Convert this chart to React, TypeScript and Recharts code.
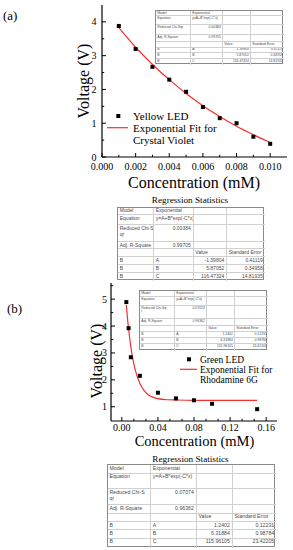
import React from 'react';
import { ComposedChart, Scatter, Line, XAxis, YAxis } from 'recharts';

// (a) Yellow LED, crystal violet
const concA = [0.001, 0.002, 0.003, 0.004, 0.005, 0.006, 0.007, 0.008, 0.009, 0.01];
const voltA = [3.88, 3.2, 2.67, 2.29, 1.93, 1.48, 1.15, 1.0, 0.6, 0.39];
const fitConcA = [0.001, 0.002, 0.003, 0.004, 0.005, 0.006, 0.007, 0.008, 0.009, 0.01];
const fitVoltA = [3.83, 3.25, 2.74, 2.29, 1.88, 1.52, 1.2, 0.91, 0.66, 0.43];

const xMajorA = [0, 0.002, 0.004, 0.006, 0.008, 0.01];
const xLabelsA = ['0.000', '0.002', '0.004', '0.006', '0.008', '0.010'];
const xMinorA = [0.001, 0.003, 0.005, 0.007, 0.009];
const yMajorA = [0, 1, 2, 3, 4];
const yLabelsA = ['0', '1', '2', '3', '4'];
const yMinorA = [0.5, 1.5, 2.5, 3.5];

// (b) Green LED, rhodamine 6G
const concB = [0.005, 0.0075, 0.01, 0.02, 0.04, 0.06, 0.08, 0.1, 0.15];
const voltB = [4.89, 3.92, 2.84, 2.15, 1.52, 1.31, 1.24, 1.11, 0.91];
const fitConcB = [0.005, 0.006, 0.0075, 0.01, 0.0125, 0.015, 0.02, 0.025, 0.03, 0.035, 0.04, 0.05, 0.06, 0.08, 0.1, 0.15];
const fitVoltB = [4.78, 4.39, 3.89, 3.22, 2.72, 2.35, 1.86, 1.59, 1.43, 1.35, 1.3, 1.26, 1.25, 1.24, 1.24, 1.24];

const xMajorB = [0, 0.04, 0.08, 0.12, 0.16];
const xLabelsB = ['0.00', '0.04', '0.08', '0.12', '0.16'];
const xMinorB = [0.0133, 0.0267, 0.0533, 0.0667, 0.0933, 0.1067, 0.1333, 0.1467];
const yMajorB = [1, 2, 3, 4, 5];
const yLabelsB = ['1', '2', '3', '4', '5'];
const yMinorB = [1.5, 2.5, 3.5, 4.5, 5.5];

// regression tables
const paramNames = ['A', 'B', 'C'];
const modelA = ['Exponential', 'y=A+B*exp(-C*x)', '0.00384', '0.99705'];
const paramValA = ['-1.39804', '5.87052', '116.47324'];
const paramErrA = ['0.41119', '0.34958', '14.81935'];
const modelB = ['Exponential', 'y=A+B*exp(-C*x)', '0.07074', '0.96362'];
const paramValB = ['1.2402', '6.31884', '115.96105'];
const paramErrB = ['0.12231', '0.98784', '23.42205'];

const SERIF = "'Liberation Serif', 'DejaVu Serif', serif";
const SANS = "'Liberation Sans', Arial, sans-serif";
const RED = '#f23030';

const isIn = (arr: number[], v: number) => arr.findIndex((m) => Math.abs(m - v) < 1e-9);

function makeTick(side: string, majors: number[], labels: string[], off: number) {
  return (p: any) => {
    const { x, y, payload } = p;
    const i = isIn(majors, payload.value);
    const len = i >= 0 ? 4 : 2.2;
    const st = { stroke: '#000', strokeWidth: 1 };
    const ts = { fontFamily: SERIF, fontSize: 10 };
    if (side === 'bottom') {
      return (
        <g>
          <line x1={x} x2={x} y1={y} y2={y - len} {...st} />
          {i >= 0 && (
            <text x={x} y={y + off} textAnchor="middle" dominantBaseline="central" style={ts} fill="#000">
              {labels[i]}
            </text>
          )}
        </g>
      );
    }
    if (side === 'top') return <line x1={x} x2={x} y1={y} y2={y + len} {...st} />;
    if (side === 'left') {
      return (
        <g>
          <line x1={x} x2={x + len} y1={y} y2={y} {...st} />
          {i >= 0 && (
            <text x={x - off} y={y} textAnchor="end" dominantBaseline="central" style={ts} fill="#000">
              {labels[i]}
            </text>
          )}
        </g>
      );
    }
    return <line x1={x} x2={x - len} y1={y} y2={y} {...st} />;
  };
}

const Square = (p: any) => <rect x={p.cx - 2} y={p.cy - 2} width={4} height={4} fill="#000" />;

function Panel(props: any) {
  const { top, height, mTop, mRight, yW, xH, xDomain, yDomain, xMaj, xMin, xLab, yMaj, yMin, yLab, pts, fit, xOff, yOff } = props;
  const xt = [...xMaj, ...xMin];
  const yt = [...yMaj, ...yMin];
  const axisLine = { stroke: '#000', strokeWidth: 1.2 };
  return (
    <div style={{ position: 'absolute', left: 0, top }}>
      <ComposedChart width={293} height={height} margin={{ top: mTop, right: mRight, left: 0, bottom: 0 }}>
        <XAxis xAxisId="b" type="number" dataKey="x" domain={xDomain} ticks={xt} interval={0} allowDataOverflow
          tickSize={0} tickMargin={0} tickLine={false} height={xH} axisLine={axisLine} tick={makeTick('bottom', xMaj, xLab, xOff)} />
        <XAxis xAxisId="t" orientation="top" type="number" dataKey="x" domain={xDomain} ticks={xt} interval={0} allowDataOverflow
          tickSize={0} tickMargin={0} tickLine={false} height={0} axisLine={axisLine} tick={makeTick('top', xMaj, xLab, 0)} />
        <YAxis yAxisId="l" type="number" domain={yDomain} ticks={yt} interval={0} allowDataOverflow
          tickSize={0} tickMargin={0} tickLine={false} width={yW} axisLine={axisLine} tick={makeTick('left', yMaj, yLab, yOff)} />
        <YAxis yAxisId="r" orientation="right" type="number" domain={yDomain} ticks={yt} interval={0} allowDataOverflow
          tickSize={0} tickMargin={0} tickLine={false} width={0} axisLine={axisLine} tick={makeTick('right', yMaj, yLab, 0)} />
        <Line xAxisId="b" yAxisId="l" data={fit} dataKey="y" type="monotone" stroke={RED} strokeWidth={1.2} dot={false} isAnimationActive={false} />
        <Scatter xAxisId="b" yAxisId="l" data={pts} dataKey="y" shape={Square} isAnimationActive={false} />
      </ComposedChart>
    </div>
  );
}

function StatTable(props: any) {
  const { left, top, cols, rows, fs, model, vals, errs, chi } = props;
  const grid: any[][] = [
    ['Model', model[0], '', ''],
    ['Equation', model[1], '', ''],
    [chi, model[2], '', ''],
    ['Adj. R-Square', model[3], '', ''],
    ['', '', 'Value', 'Standard Error'],
    ...paramNames.map((n, i) => ['B', n, vals[i], errs[i]]),
  ];
  const W = cols.reduce((a: number, b: number) => a + b, 0);
  const H = rows.reduce((a: number, b: number) => a + b, 0);
  const cells: any[] = [];
  let ty = 0;
  grid.forEach((row, r) => {
    let tx = 0;
    row.forEach((c, k) => {
      const right = (k === 1 && (r === 2 || r === 3)) || (r >= 5 && k >= 2);
      cells.push(
        <div key={r + '-' + k} style={{
          position: 'absolute', left: tx, top: ty, width: cols[k], height: rows[r], boxSizing: 'border-box',
          borderRight: k < 3 ? '1px solid #d0d0d0' : 'none', borderBottom: r < 7 ? '1px solid #d0d0d0' : 'none',
          fontSize: fs, lineHeight: 1.15, padding: `${fs * 0.15}px ${fs * 0.35}px 0`, textAlign: right ? 'right' : 'left',
          whiteSpace: 'nowrap', overflow: 'hidden', color: '#4a4a4a', fontFamily: SANS,
        }}>{c}</div>
      );
      tx += cols[k];
    });
    ty += rows[r];
  });
  return (
    <div style={{ position: 'absolute', left, top, width: W, height: H, border: '1px solid #8a8a8a', background: '#fff', boxSizing: 'border-box' }}>
      {cells}
    </div>
  );
}

export default function App() {
  const ptsA = concA.map((x, i) => ({ x, y: voltA[i] }));
  const fitA = fitConcA.map((x, i) => ({ x, y: fitVoltA[i] }));
  const ptsB = concB.map((x, i) => ({ x, y: voltB[i] }));
  const fitB = fitConcB.map((x, i) => ({ x, y: fitVoltB[i] }));
  const t = (fs: number) => ({ style: { fontFamily: SERIF, fontSize: fs }, fill: '#000' });
  return (
    <div style={{ position: 'absolute', left: 0, top: 0, width: 293, height: 550, background: '#fff', overflow: 'hidden' }}>
      <Panel top={0} height={175} mTop={5} mRight={6} yW={102} xH={18} xDomain={[0, 0.011]} yDomain={[0, 4.5]}
        xMaj={xMajorA} xMin={xMinorA} xLab={xLabelsA} yMaj={yMajorA} yMin={yMinorA} yLab={yLabelsA}
        pts={ptsA} fit={fitA} xOff={9.4} yOff={5.5} />
      <Panel top={278} height={165} mTop={5} mRight={16} yW={111} xH={22} xDomain={[-0.012, 0.172]} yDomain={[0.47, 5.6]}
        xMaj={xMajorB} xMin={xMinorB} xLab={xLabelsB} yMaj={yMajorB} yMin={yMinorB} yLab={yLabelsB}
        pts={ptsB} fit={fitB} xOff={6.5} yOff={4} />

      <StatTable left={155} top={10} cols={[35, 32, 28, 33]} rows={[5, 9, 10, 7, 5.5, 5.5, 6, 6]} fs={3.4}
        model={modelA} vals={paramValA} errs={paramErrA} chi="Reduced Chi-Sqr" />
      <StatTable left={139} top={290} cols={[35, 32, 28, 33]} rows={[6, 9, 13, 7, 6, 6, 6, 6.5]} fs={3.4}
        model={modelB} vals={paramValB} errs={paramErrB} chi={<>Reduced Chi-Sq<br />r</>} />
      <StatTable left={117} top={206.7} cols={[36, 39.5, 33.5, 37.5]} rows={[7.5, 10, 17, 7, 8, 8, 8, 8]} fs={5}
        model={modelA} vals={paramValA} errs={paramErrA} chi={<>Reduced Chi-S<br />qr</>} />
      <StatTable left={106.7} top={464} cols={[43.3, 45.7, 36, 43.3]} rows={[8.7, 15.6, 16, 8.4, 8.3, 8.3, 8.4, 9]} fs={5.2}
        model={modelB} vals={paramValB} errs={paramErrB} chi={<>Reduced Chi-S<br />qr</>} />

      <svg width={293} height={550} style={{ position: 'absolute', left: 0, top: 0, pointerEvents: 'none' }}>
        <text x={3} y={19.5} {...t(13)}>(a)</text>
        <text x={7} y={313} {...t(13)}>(b)</text>

        <text transform="translate(83,81) rotate(-90)" textAnchor="middle" dominantBaseline="central" {...t(16)}>Voltage (V)</text>
        <text transform="translate(96,361) rotate(-90)" textAnchor="middle" dominantBaseline="central" {...t(16)}>Voltage (V)</text>
        <text x={194} y={182.5} textAnchor="middle" dominantBaseline="central" {...t(16)}>Concentration (mM)</text>
        <text x={194.5} y={441} textAnchor="middle" dominantBaseline="central" {...t(14.5)}>Concentration (mM)</text>

        <rect x={116.3} y={114} width={4} height={4} fill="#000" />
        <text x={133} y={116} dominantBaseline="central" {...t(11)}>Yellow LED</text>
        <line x1={107} x2={128} y1={127.7} y2={127.7} stroke={RED} strokeWidth={1.2} />
        <text x={133} y={128} dominantBaseline="central" {...t(11)}>Exponential Fit for</text>
        <text x={133} y={140} dominantBaseline="central" {...t(11)}>Crystal Violet</text>

        <rect x={187} y={357.3} width={4} height={4} fill="#000" />
        <text x={200} y={359.5} dominantBaseline="central" {...t(9.5)}>Green LED</text>
        <line x1={180} x2={197} y1={369.3} y2={369.3} stroke={RED} strokeWidth={1.2} />
        <text x={200} y={369.5} dominantBaseline="central" {...t(9.5)}>Exponential Fit for</text>
        <text x={200} y={380} dominantBaseline="central" {...t(9.5)}>Rhodamine 6G</text>

        <text x={190} y={200} textAnchor="middle" dominantBaseline="central" {...t(9.2)}>Regression Statistics</text>
        <text x={190.5} y={459.3} textAnchor="middle" dominantBaseline="central" {...t(9.2)}>Regression Statistics</text>
      </svg>
    </div>
  );
}
